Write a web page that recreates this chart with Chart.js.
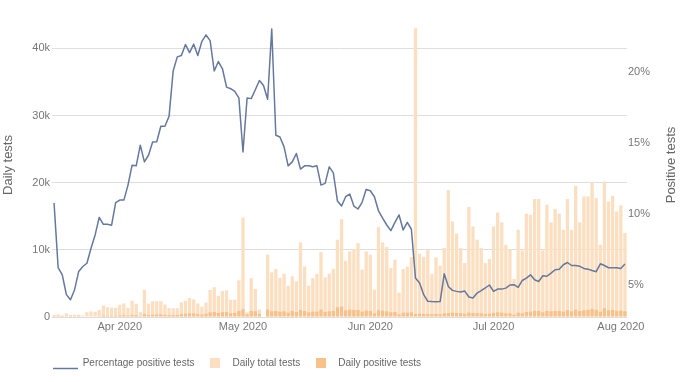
<!DOCTYPE html>
<html>
<head>
<meta charset="utf-8">
<script src="https://cdn.jsdelivr.net/npm/chart.js@4.4.1/dist/chart.umd.min.js"></script>
<style>
html,body{margin:0;padding:0;background:#fff;}
#wrap{width:680px;height:382px;}
</style>
</head>
<body>
<div id="wrap"><canvas id="c" width="680" height="382" style="width:680px;height:382px"></canvas></div>
<script>
// ---- categories: one per day, 16 Mar 2020 .. 2 Aug 2020 ----
const startDate = [2020, 2, 16]; // year, monthIndex, day
const dayCount = 140;
const monthNames = ['Jan','Feb','Mar','Apr','May','Jun','Jul','Aug','Sep','Oct','Nov','Dec'];

// ---- series values ----
const pctPositive = [
  10.77, 6.2, 5.7, 4.3, 3.94, 4.65, 5.94, 6.29, 6.52, 7.58, 8.52, 9.76, 9.27, 9.27, 9.2, 10.8,
  10.98, 10.98, 12.04, 13.45, 13.4, 14.86, 13.68, 14.15, 15.09, 15.1, 16.2, 16.2, 16.9,
  20.1, 21.1, 21.2, 21.97, 21.4, 22.0, 21.2, 22.2, 22.65, 22.25, 20.1, 20.77, 20.26, 18.96,
  18.85, 18.66, 18.2, 14.38, 18.19, 18.15, 18.78, 19.43, 19.08, 18.1, 23.07, 15.56, 15.44,
  14.74, 13.4, 13.68, 14.27, 13.17, 13.4, 13.4, 13.33, 13.4, 12.04, 12.16, 13.33, 12.9, 10.91,
  10.56, 11.22, 11.41, 10.56, 10.35, 10.82, 11.74, 11.64, 11.22, 10.21, 9.7, 9.22, 8.82, 9.41,
  9.93, 8.87, 9.41, 8.92, 5.47, 5.12, 4.3, 3.83, 3.81, 3.8, 3.81, 5.77, 4.88, 4.6, 4.53, 4.48,
  4.55, 4.13, 4.06, 4.41, 4.58, 4.77, 4.98, 4.53, 4.69, 4.69, 4.76, 4.98,
  5.0, 4.81, 5.3, 5.47, 5.7, 5.35, 5.23, 5.63, 5.6, 5.82, 6.06, 6.1, 6.41, 6.57, 6.36, 6.36,
  6.3, 6.15, 6.1, 6.0, 5.92, 6.48, 6.36, 6.2, 6.2, 6.2, 6.15, 6.46
];
const dailyTotal = [
  300, 400, 230, 550, 300, 350, 350, 200, 720, 820, 740,
  1040, 1710, 1460, 1390, 1360, 1810, 2030, 1360, 2430, 1980,
  720, 4070, 1980, 2330, 2350, 2350, 1860, 1310, 1310, 1310,
  2180, 2430, 2830, 2630, 2030, 1540, 2150, 4020, 4430, 3120,
  3870, 3970, 2580, 2580, 5460, 14830, 700, 5800, 4190, 1100,
  null,
  9275, 6650, 7140, 5800, 6450, 4660, 6050, 5300, 11110,
  7540, 4660, 5800, 6450, 9670, 5900, 6450, 7140, 11500, 14580,
  8380, 9770, 10120, 11010, 7040, 9770, 9280, 4070, 13390, 11110,
  10420, 7290, 8530, 3620, 7140, 7490, 8930, 43000, 9420, 8980,
  9970, 6420, 8880, 7660, 10270, 18900, 14240, 12420, 10270, 8040,
  16370, 13490, 11510, 10270, 8040, 8630, 13490, 15570, 14090, 10760,
  10020, 5650, 12990, 9920, 15380, 15230, 17560, 17560, 9920, 16720,
  14090, 16120, 15380, 12990, 17560, 12990, 19540, 14090, 17960, 17960,
  20040, 17710, 10760, 20190, 17210, 18050, 15720, 16620, 12500
];
const dailyPositive = [
  20, 30, 20, 40, 30, 40, 30, 60, 70, 60, 90,
  120, 200, 160, 170, 180, 220, 260, 190, 300, 280,
  120, 450, 300, 350, 380, 400, 330, 280, 300, 300,
  420, 500, 560, 520, 430, 380, 500, 700, 760, 600,
  720, 750, 560, 600, 900, 1150, 400, 900, 850, 450,
  null,
  1100, 850, 900, 800, 850, 650, 900, 750, 1050,
  900, 700, 800, 800, 1100, 750, 850, 900, 1450, 1550,
  1000, 1100, 1050, 1050, 800, 950, 900, 550, 1000, 950,
  850, 700, 750, 400, 650, 650, 700, 450, 500, 450,
  450, 400, 450, 400, 550, 600, 650, 600, 550, 500,
  650, 600, 550, 550, 450, 500, 600, 700, 650, 550,
  550, 350, 650, 550, 750, 800, 900, 900, 700, 900,
  850, 900, 900, 800, 1000, 850, 1100, 900, 1000, 1050,
  1200, 1050, 800, 1300, 1000, 1050, 900, 950, 850
];

// ---- tick labels ----
const leftTicks = [0, 10000, 20000, 30000, 40000];
const leftTickLabels = ['0', '10k', '20k', '30k', '40k'];
const rightTicks = [5, 10, 15, 20];
const rightTickLabels = ['5%', '10%', '15%', '20%'];
const leftTitle = 'Daily tests';
const rightTitle = 'Positive tests';

// ---- build day categories ----
const days = [];
for (let i = 0; i < dayCount; i++) {
  days.push(new Date(startDate[0], startDate[1], startDate[2] + i));
}
const categories = days.map(d => d.getFullYear() + '-' + String(d.getMonth() + 1).padStart(2, '0') + '-' + String(d.getDate()).padStart(2, '0'));

// ---- styles ----
const fontFamily = '"Liberation Sans", Arial, sans-serif';
const lineColor = '#65789d';
const lightBar = '#fcdfc0';
const darkBar = '#f7c189';

function makeIcon(w, h, draw) {
  const c = document.createElement('canvas');
  c.width = w; c.height = h;
  draw(c.getContext('2d'));
  return c;
}
const icons = [
  makeIcon(25, 14, ctx => { ctx.strokeStyle = lineColor; ctx.lineWidth = 1.5; ctx.beginPath(); ctx.moveTo(0, 12.5); ctx.lineTo(25, 12.5); ctx.stroke(); }),
  makeIcon(10, 10, ctx => { ctx.fillStyle = lightBar; ctx.fillRect(0, 0, 10, 10); }),
  makeIcon(10, 10, ctx => { ctx.fillStyle = darkBar; ctx.fillRect(0, 0, 10, 10); })
];

const legendShift = {
  id: 'legendShift',
  afterLayout(chart) {
    const l = chart.legend;
    if (l) { l.left += 44.7; l.right += 44.7; }
  }
};

// Axis titles, both reading bottom-to-top as in the reference
const axisTitles = {
  id: 'axisTitles',
  afterDraw(chart) {
    const ctx = chart.ctx;
    ctx.save();
    ctx.font = '13px ' + fontFamily;
    ctx.fillStyle = '#666';
    ctx.textAlign = 'center';
    ctx.textBaseline = 'middle';
    [[8, 165, leftTitle], [671, 165, rightTitle]].forEach(([x, y, t]) => {
      ctx.save();
      ctx.translate(x, y);
      ctx.rotate(-Math.PI / 2);
      ctx.fillText(t, 0, 0);
      ctx.restore();
    });
    ctx.restore();
  }
};

Chart.defaults.font.family = fontFamily;

new Chart(document.getElementById('c'), {
  type: 'bar',
  data: {
    labels: categories,
    datasets: [
      { type: 'line', label: 'Percentage positive tests', data: pctPositive, yAxisID: 'y1',
        borderColor: lineColor, backgroundColor: lineColor, borderWidth: 1.5, pointRadius: 0,
        tension: 0, borderJoinStyle: 'round', order: 0 },
      { type: 'bar', label: 'Daily total tests', data: dailyTotal, yAxisID: 'y',
        backgroundColor: lightBar, grouped: false, barPercentage: 0.8, categoryPercentage: 1, order: 2 },
      { type: 'bar', label: 'Daily positive tests', data: dailyPositive, yAxisID: 'y',
        backgroundColor: darkBar, grouped: false, barPercentage: 0.8, categoryPercentage: 1, order: 1 }
    ]
  },
  options: {
    responsive: false,
    animation: false,
    layout: { padding: { top: 28, bottom: 4, left: 0, right: 0 } },
    scales: {
      x: {
        type: 'category',
        offset: true,
        grid: { display: false },
        border: { display: false },
        ticks: {
          autoSkip: false, maxRotation: 0, minRotation: 0, padding: -5,
          color: '#777', font: { size: 11 },
          callback: function(v, i) {
            const d = days[i];
            return d.getDate() === 1 ? monthNames[d.getMonth()] + ' ' + d.getFullYear() : null;
          }
        },
        afterFit: s => { s.height = 33; }
      },
      y: {
        position: 'left', min: 0, max: 43040,
        afterBuildTicks: s => { s.ticks = leftTicks.map(v => ({ value: v })); },
        ticks: { color: '#777', font: { size: 11 }, padding: 2,
          callback: v => leftTickLabels[leftTicks.indexOf(v)] },
        grid: { color: '#dedede', drawTicks: false, lineWidth: 1 },
        border: { display: false },
        title: { display: false },
        afterFit: s => { s.width = 52; }
      },
      y1: {
        position: 'right', min: 2.72, max: 23.14,
        afterBuildTicks: s => { s.ticks = rightTicks.map(v => ({ value: v })); },
        ticks: { color: '#777', font: { size: 11 }, padding: 1,
          callback: v => rightTickLabels[rightTicks.indexOf(v)] },
        grid: { display: false, drawTicks: false },
        border: { display: false },
        title: { display: false },
        afterFit: s => { s.width = 53; }
      }
    },
    plugins: {
      tooltip: { enabled: false },
      legend: {
        position: 'bottom', align: 'start',
        labels: {
          usePointStyle: true, pointStyleWidth: 25, padding: 8,
          color: '#666', font: { size: 10 },
          generateLabels: chart => {
            const items = Chart.defaults.plugins.legend.labels.generateLabels(chart);
            items.forEach(it => { it.pointStyle = icons[it.datasetIndex]; });
            return items.sort((a, b) => a.datasetIndex - b.datasetIndex);
          }
        }
      }
    }
  },
  plugins: [legendShift, axisTitles]
});
</script>
</body>
</html>
